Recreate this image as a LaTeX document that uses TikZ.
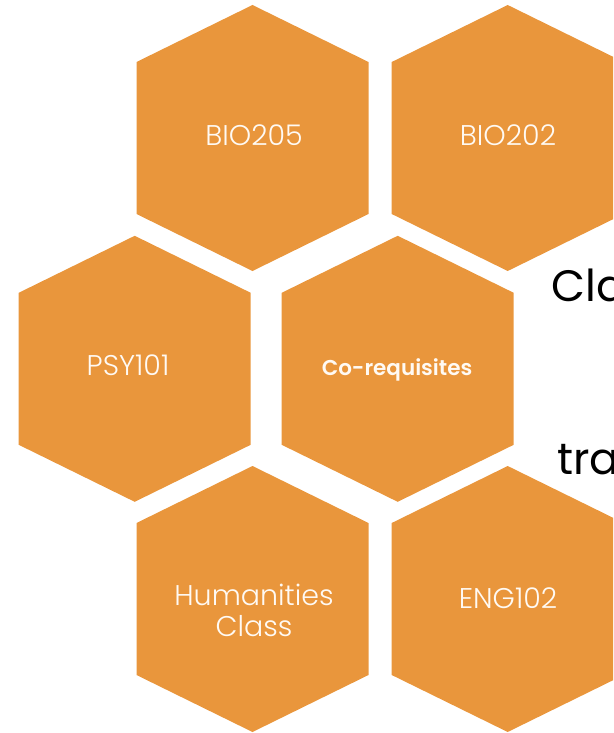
\documentclass[tikz,border=0pt]{standalone}
\usepackage{fontspec}
\setmainfont{Poppins}[UprightFont=* Light, BoldFont=* SemiBold]
\newfontfamily\regfont{Poppins}
\definecolor{hexorange}{RGB}{233,150,60}
\definecolor{lbltext}{RGB}{255,250,244}
\newcommand\hexat[2]{%
  \fill[hexorange] (#1-116,#2-76) -- (#1,#2-133) -- (#1+116,#2-76) -- (#1+116,#2+76) -- (#1,#2+133) -- (#1-116,#2+76) -- cycle;}
\tikzset{
  lbl/.style={text=lbltext, inner sep=0pt, anchor=base, font=\fontsize{28.5}{31}\selectfont, align=center},
  boldlbl/.style={text=lbltext, inner sep=0pt, anchor=base, font=\fontsize{21.5}{24}\selectfont\bfseries},
  bigtxt/.style={text=black, inner sep=0pt, anchor=base west, font=\regfont\fontsize{44}{48}\selectfont}
}
\begin{document}
\begin{tikzpicture}[x=1pt,y=-1pt]
\useasboundingbox (0,0) rectangle (613,733);
\clip (0,0) rectangle (613,733);
\hexat{252.5}{138}
\hexat{507.7}{138}
\hexat{134.7}{368.8}
\hexat{397.7}{368.8}
\hexat{252.5}{599}
\hexat{507.7}{599}
\node[lbl] (bio205) at (254,146) {BIO205};
\node[lbl] (bio202) at (508,146) {BIO202};
\node[lbl] (psy101) at (128,375.7) {PSY101};
\node[boldlbl] (coreq) at (397,375.7) {Co-requisites};
\node[lbl, anchor=south] (hum) at (254,637) {Humanities\\Class};
\node[lbl] (eng102) at (508,608) {ENG102};
\node[bigtxt] (cla) at (551,301.7) {Cla};
\node[bigtxt] (tra) at (557,474.3) {tra};
\end{tikzpicture}
\end{document}
